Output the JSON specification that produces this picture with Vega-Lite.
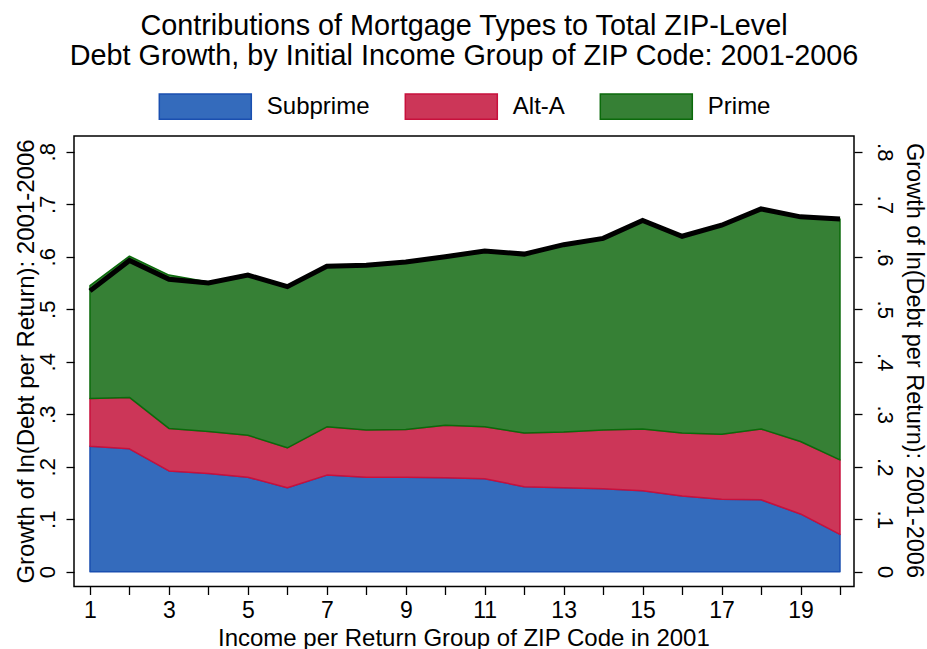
{
  "$schema": "https://vega.github.io/schema/vega-lite/v6.json",
  "width": 780,
  "height": 450.5,
  "autosize": "none",
  "padding": {"left": 74, "top": 136, "right": 73, "bottom": 62.5},
  "background": "white",
  "config": {
    "font": "Liberation Sans",
    "view": {"stroke": "#000000", "strokeWidth": 1.5},
    "axis": {"domain": false, "grid": false, "tickColor": "#000000", "tickWidth": 1.3, "tickSize": 8, "labelColor": "#000000", "titleColor": "#000000", "labelFont": "Liberation Sans", "titleFont": "Liberation Sans", "titleFontWeight": "normal"},
    "legend": {
      "orient": "none", "legendX": 84.3, "legendY": -76.5, "direction": "horizontal", "padding": 0,
      "symbolType": "M-1,-0.277H1V0.277H-1Z", "symbolSize": 8464, "symbolStrokeWidth": 1.5, "symbolOpacity": 1,
      "labelFontSize": 24, "labelColor": "#000000", "labelOffset": 14.5, "columnPadding": 32, "labelFont": "Liberation Sans"
    }
  },
  "title": {
    "text": ["Contributions of Mortgage Types to Total ZIP-Level", "Debt Growth, by Initial Income Group of ZIP Code: 2001-2006"],
    "anchor": "middle", "frame": "group", "fontSize": 28.8, "lineHeight": 30, "fontWeight": "normal", "color": "#000000", "font": "Liberation Sans", "baseline": "alphabetic", "offset": 10, "dy": 44
  },
  "datasets": {
    "areas": [
      {"group": 1, "type": "Subprime", "k": 1, "value": 0.239}, {"group": 1, "type": "Alt-A", "k": 2, "value": 0.091}, {"group": 1, "type": "Prime", "k": 3, "value": 0.215},
      {"group": 2, "type": "Subprime", "k": 1, "value": 0.234}, {"group": 2, "type": "Alt-A", "k": 2, "value": 0.098}, {"group": 2, "type": "Prime", "k": 3, "value": 0.269},
      {"group": 3, "type": "Subprime", "k": 1, "value": 0.192}, {"group": 3, "type": "Alt-A", "k": 2, "value": 0.081}, {"group": 3, "type": "Prime", "k": 3, "value": 0.292},
      {"group": 4, "type": "Subprime", "k": 1, "value": 0.187}, {"group": 4, "type": "Alt-A", "k": 2, "value": 0.080}, {"group": 4, "type": "Prime", "k": 3, "value": 0.285},
      {"group": 5, "type": "Subprime", "k": 1, "value": 0.180}, {"group": 5, "type": "Alt-A", "k": 2, "value": 0.080}, {"group": 5, "type": "Prime", "k": 3, "value": 0.307},
      {"group": 6, "type": "Subprime", "k": 1, "value": 0.160}, {"group": 6, "type": "Alt-A", "k": 2, "value": 0.076}, {"group": 6, "type": "Prime", "k": 3, "value": 0.308},
      {"group": 7, "type": "Subprime", "k": 1, "value": 0.184}, {"group": 7, "type": "Alt-A", "k": 2, "value": 0.092}, {"group": 7, "type": "Prime", "k": 3, "value": 0.308},
      {"group": 8, "type": "Subprime", "k": 1, "value": 0.180}, {"group": 8, "type": "Alt-A", "k": 2, "value": 0.090}, {"group": 8, "type": "Prime", "k": 3, "value": 0.315},
      {"group": 9, "type": "Subprime", "k": 1, "value": 0.180}, {"group": 9, "type": "Alt-A", "k": 2, "value": 0.091}, {"group": 9, "type": "Prime", "k": 3, "value": 0.319},
      {"group": 10, "type": "Subprime", "k": 1, "value": 0.179}, {"group": 10, "type": "Alt-A", "k": 2, "value": 0.100}, {"group": 10, "type": "Prime", "k": 3, "value": 0.321},
      {"group": 11, "type": "Subprime", "k": 1, "value": 0.177}, {"group": 11, "type": "Alt-A", "k": 2, "value": 0.099}, {"group": 11, "type": "Prime", "k": 3, "value": 0.335},
      {"group": 12, "type": "Subprime", "k": 1, "value": 0.162}, {"group": 12, "type": "Alt-A", "k": 2, "value": 0.102}, {"group": 12, "type": "Prime", "k": 3, "value": 0.341},
      {"group": 13, "type": "Subprime", "k": 1, "value": 0.160}, {"group": 13, "type": "Alt-A", "k": 2, "value": 0.106}, {"group": 13, "type": "Prime", "k": 3, "value": 0.358},
      {"group": 14, "type": "Subprime", "k": 1, "value": 0.158}, {"group": 14, "type": "Alt-A", "k": 2, "value": 0.112}, {"group": 14, "type": "Prime", "k": 3, "value": 0.365},
      {"group": 15, "type": "Subprime", "k": 1, "value": 0.154}, {"group": 15, "type": "Alt-A", "k": 2, "value": 0.118}, {"group": 15, "type": "Prime", "k": 3, "value": 0.397},
      {"group": 16, "type": "Subprime", "k": 1, "value": 0.144}, {"group": 16, "type": "Alt-A", "k": 2, "value": 0.120}, {"group": 16, "type": "Prime", "k": 3, "value": 0.375},
      {"group": 17, "type": "Subprime", "k": 1, "value": 0.138}, {"group": 17, "type": "Alt-A", "k": 2, "value": 0.124}, {"group": 17, "type": "Prime", "k": 3, "value": 0.398},
      {"group": 18, "type": "Subprime", "k": 1, "value": 0.137}, {"group": 18, "type": "Alt-A", "k": 2, "value": 0.135}, {"group": 18, "type": "Prime", "k": 3, "value": 0.419},
      {"group": 19, "type": "Subprime", "k": 1, "value": 0.110}, {"group": 19, "type": "Alt-A", "k": 2, "value": 0.138}, {"group": 19, "type": "Prime", "k": 3, "value": 0.428},
      {"group": 20, "type": "Subprime", "k": 1, "value": 0.071}, {"group": 20, "type": "Alt-A", "k": 2, "value": 0.142}, {"group": 20, "type": "Prime", "k": 3, "value": 0.459}
    ],
    "total": [
      {"group": 1, "total": 0.535}, {"group": 2, "total": 0.593}, {"group": 3, "total": 0.557}, {"group": 4, "total": 0.550},
      {"group": 5, "total": 0.565}, {"group": 6, "total": 0.543}, {"group": 7, "total": 0.582}, {"group": 8, "total": 0.584},
      {"group": 9, "total": 0.590}, {"group": 10, "total": 0.600}, {"group": 11, "total": 0.611}, {"group": 12, "total": 0.605},
      {"group": 13, "total": 0.623}, {"group": 14, "total": 0.635}, {"group": 15, "total": 0.669}, {"group": 16, "total": 0.639},
      {"group": 17, "total": 0.660}, {"group": 18, "total": 0.691}, {"group": 19, "total": 0.676}, {"group": 20, "total": 0.672}
    ]
  },
  "layer": [
    {
      "data": {"name": "areas"},
      "mark": {"type": "area", "opacity": 1, "strokeWidth": 1.5, "strokeJoin": "round"},
      "encoding": {
        "x": {
          "field": "group", "type": "quantitative",
          "scale": {"domain": [0.595, 20.355], "nice": false, "zero": false},
          "axis": {
            "orient": "bottom",
            "values": [1, 2, 3, 4, 5, 6, 7, 8, 9, 10, 11, 12, 13, 14, 15, 16, 17, 18, 19, 20],
            "labelExpr": "datum.value % 2 == 1 ? datum.label : ''",
            "labelFontSize": 23, "labelPadding": 5, "labelBaseline": "top", "labelFlush": false, "labelOverlap": false,
            "title": "Income per Return Group of ZIP Code in 2001", "titleFontSize": 24,
            "titleX": 389.4, "titleY": 58.5, "titleBaseline": "alphabetic", "titleAlign": "center", "titleAnchor": null
          }
        },
        "y": {
          "field": "value", "type": "quantitative", "stack": "zero",
          "scale": {"domain": [-0.0282, 0.83], "nice": false, "zero": false},
          "axis": {
            "orient": "left",
            "values": [0, 0.1, 0.2, 0.3, 0.4, 0.5, 0.6, 0.7, 0.8],
            "labelExpr": "datum.value == 0 ? '0' : replace(format(datum.value, '.1f'), '0.', '.')",
            "labelAngle": -90, "labelAlign": "center", "labelBaseline": "alphabetic", "labelFontSize": 22, "labelPadding": 11.5, "labelFlush": false, "labelOverlap": false,
            "title": "Growth of ln(Debt per Return): 2001-2006", "titleFontSize": 24, "titleAngle": -90,
            "titleX": -41, "titleY": 225, "titleBaseline": "alphabetic", "titleAlign": "center"
          }
        },
        "color": {
          "field": "type", "type": "nominal", "title": null,
          "scale": {"domain": ["Subprime", "Alt-A", "Prime"], "range": ["#346BBC", "#CC3658", "#368035"]}
        },
        "stroke": {
          "field": "type", "type": "nominal", "title": null,
          "scale": {"domain": ["Subprime", "Alt-A", "Prime"], "range": ["#1A4FB0", "#C8103C", "#0B6A0B"]}
        },
        "order": {"field": "k", "type": "quantitative"}
      }
    },
    {
      "data": {"name": "total"},
      "mark": {"type": "line", "color": "#000000", "strokeWidth": 5, "strokeJoin": "miter", "strokeCap": "butt"},
      "encoding": {
        "x": {"field": "group", "type": "quantitative"},
        "y": {
          "field": "total", "type": "quantitative",
          "axis": {
            "orient": "right",
            "values": [0, 0.1, 0.2, 0.3, 0.4, 0.5, 0.6, 0.7, 0.8],
            "labelExpr": "datum.value == 0 ? '0' : replace(format(datum.value, '.1f'), '0.', '.')",
            "labelAngle": 90, "labelAlign": "center", "labelBaseline": "alphabetic", "labelFontSize": 22, "labelPadding": 15, "labelFlush": false, "labelOverlap": false,
            "title": "Growth of ln(Debt per Return): 2001-2006", "titleFontSize": 23.5, "titleAngle": 90,
            "titleX": 52, "titleY": 224, "titleBaseline": "alphabetic", "titleAlign": "center"
          }
        }
      }
    }
  ],
  "resolve": {"scale": {"y": "shared"}, "axis": {"y": "independent"}}
}
